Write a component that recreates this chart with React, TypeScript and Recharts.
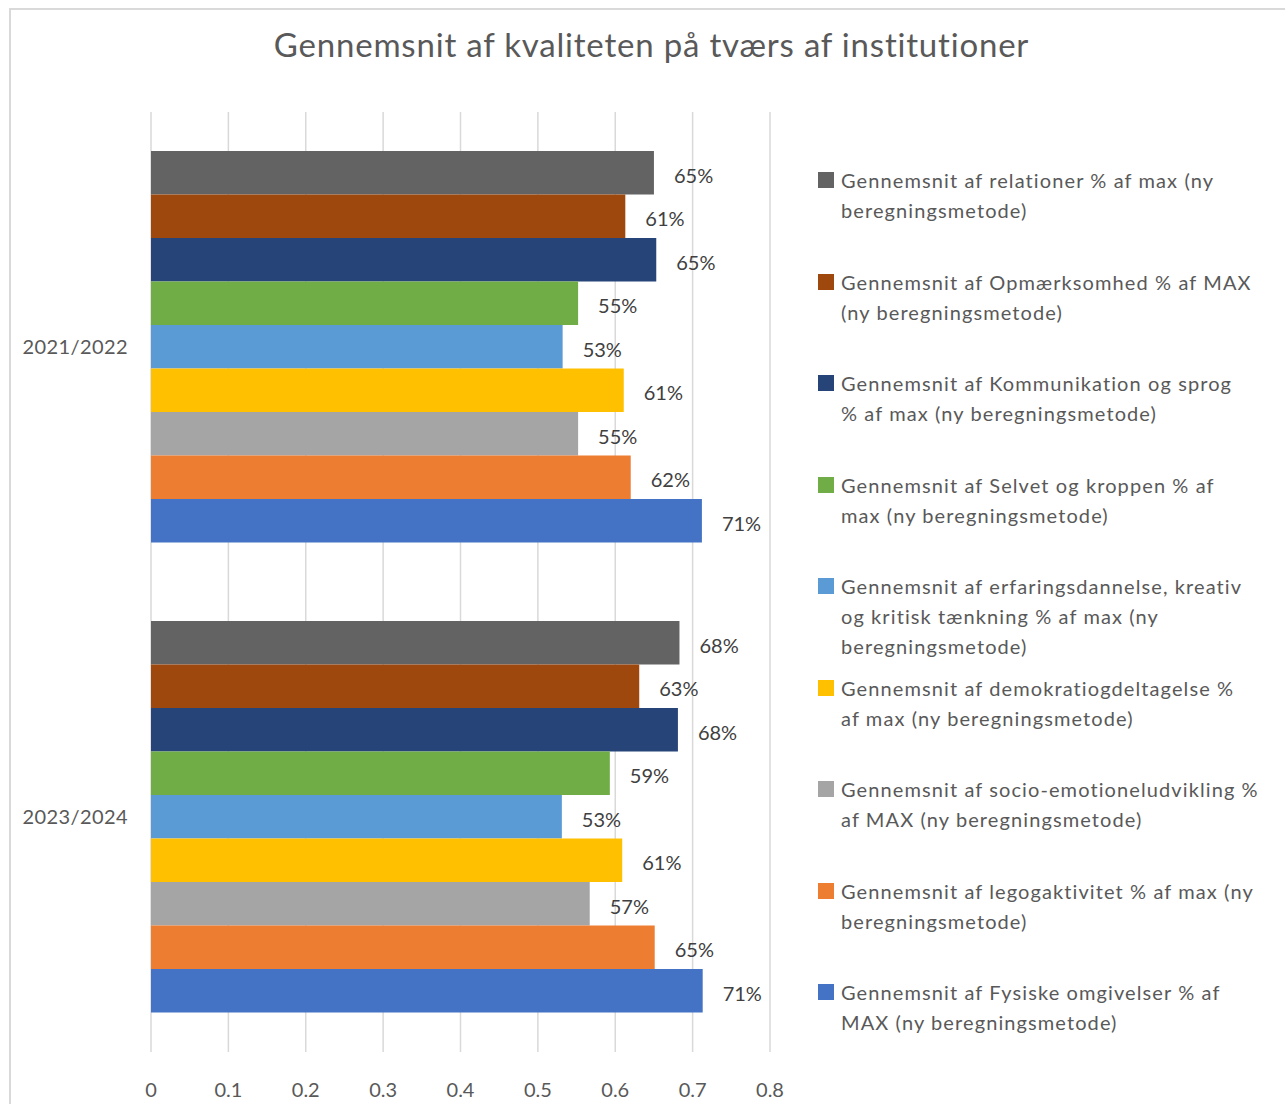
import React from 'react';
import { BarChart, Bar, XAxis, YAxis, CartesianGrid, LabelList, Legend } from 'recharts';

const categories = ['2021/2022', '2023/2024'];

const seriesNames = [
  'Gennemsnit af relationer % af max (ny beregningsmetode)',
  'Gennemsnit af Opmærksomhed % af MAX (ny beregningsmetode)',
  'Gennemsnit af Kommunikation og sprog % af max (ny beregningsmetode)',
  'Gennemsnit af Selvet og kroppen % af max (ny beregningsmetode)',
  'Gennemsnit af erfaringsdannelse, kreativ og kritisk tænkning % af max (ny beregningsmetode)',
  'Gennemsnit af demokratiogdeltagelse % af max (ny beregningsmetode)',
  'Gennemsnit af socio-emotioneludvikling % af MAX (ny beregningsmetode)',
  'Gennemsnit af legogaktivitet % af max (ny beregningsmetode)',
  'Gennemsnit af Fysiske omgivelser % af MAX (ny beregningsmetode)',
];

const legendLines = [
  ['Gennemsnit af relationer % af max (ny', 'beregningsmetode)'],
  ['Gennemsnit af Opmærksomhed % af MAX', '(ny beregningsmetode)'],
  ['Gennemsnit af Kommunikation og sprog', '% af max (ny beregningsmetode)'],
  ['Gennemsnit af Selvet og kroppen % af', 'max (ny beregningsmetode)'],
  ['Gennemsnit af erfaringsdannelse, kreativ', 'og kritisk tænkning % af max (ny', 'beregningsmetode)'],
  ['Gennemsnit af demokratiogdeltagelse %', 'af max (ny beregningsmetode)'],
  ['Gennemsnit af socio-emotioneludvikling %', 'af MAX (ny beregningsmetode)'],
  ['Gennemsnit af legogaktivitet % af max (ny', 'beregningsmetode)'],
  ['Gennemsnit af Fysiske omgivelser % af', 'MAX (ny beregningsmetode)'],
];

const seriesColors = ['#636363', '#9E480E', '#264478', '#70AD47', '#5B9BD5', '#FFC000', '#A5A5A5', '#ED7D31', '#4472C4'];

const relationer = [0.65, 0.683];
const opmaerksomhed = [0.613, 0.631];
const kommunikation = [0.653, 0.681];
const selvet = [0.552, 0.593];
const erfaringsdannelse = [0.532, 0.531];
const demokrati = [0.611, 0.609];
const socio = [0.552, 0.567];
const lego = [0.62, 0.651];
const fysiske = [0.712, 0.713];

const seriesValues = [relationer, opmaerksomhed, kommunikation, selvet, erfaringsdannelse, demokrati, socio, lego, fysiske];

const xTicks = [0, 0.1, 0.2, 0.3, 0.4, 0.5, 0.6, 0.7, 0.8];
const xTickLabels = ['0', '0.1', '0.2', '0.3', '0.4', '0.5', '0.6', '0.7', '0.8'];

const data = categories.map((cat, i) => {
  const row: Record<string, any> = { cat };
  seriesValues.forEach((vals, s) => {
    row['s' + s] = vals[i];
  });
  return row;
});

const FONT = 'Lato, "Open Sans", sans-serif';

const renderLegend = (props: any) => {
  const payload = props.payload || [];
  return (
    <div style={{ fontFamily: FONT }}>
      {seriesNames.map((name, i) => {
        const entry = payload.find((p: any) => p.value === name);
        const color = entry ? entry.color : seriesColors[i];
        return (
          <div key={i} style={{ position: 'relative', height: 101.5 }}>
            <div
              style={{
                position: 'absolute',
                left: 0,
                top: 7,
                width: 16,
                height: 16,
                background: color,
              }}
            />
            <div style={{ position: 'absolute', left: 23, top: 0, whiteSpace: 'nowrap' }}>
              {legendLines[i].map((line, k) => (
                <div
                  key={k}
                  style={{ fontSize: 20, lineHeight: '30px', color: '#595959', letterSpacing: '1.1px' }}
                >
                  {line}
                </div>
              ))}
            </div>
          </div>
        );
      })}
    </div>
  );
};

export default function App() {
  return (
    <div
      style={{
        position: 'absolute',
        left: 0,
        top: 0,
        width: 1285,
        height: 1104,
        overflow: 'hidden',
        background: '#ffffff',
        fontFamily: FONT,
      }}
    >
      <div
        style={{
          position: 'absolute',
          left: 9,
          top: 8,
          width: 1300,
          height: 1120,
          border: '2px solid #D9D9D9',
          boxSizing: 'border-box',
        }}
      />
      <div
        style={{
          position: 'absolute',
          left: 0,
          top: 28,
          width: 1303,
          textAlign: 'center',
          fontSize: 33,
          lineHeight: 1,
          letterSpacing: '0.8px',
          color: '#595959',
          whiteSpace: 'nowrap',
        }}
      >
        Gennemsnit af kvaliteten på tværs af institutioner
      </div>
      <div style={{ position: 'absolute', left: 0, top: 0 }}>
        <BarChart
          width={1285}
          height={1104}
          data={data}
          layout="vertical"
          margin={{ top: 112, right: 515, bottom: 0, left: 0 }}
          barSize={43.5}
          barGap={0}
        >
          <CartesianGrid horizontal={false} vertical stroke="#D9D9D9" strokeWidth={1.5} />
          <XAxis
            type="number"
            domain={[0, 0.8]}
            ticks={xTicks}
            tickFormatter={(v: number) => xTickLabels[xTicks.indexOf(v)] ?? String(v)}
            axisLine={false}
            tickLine={false}
            tickSize={0}
            tickMargin={31}
            height={52}
            tick={{ fill: '#595959', fontSize: 20, fontFamily: FONT }}
            interval={0}
          />
          <YAxis
            type="category"
            dataKey="cat"
            width={151}
            axisLine={false}
            tickLine={false}
            tickSize={0}
            tickMargin={23}
            tick={{ fill: '#595959', fontSize: 20, fontFamily: FONT, letterSpacing: '0.4px' }}
          />
          <Legend
            layout="horizontal"
            verticalAlign="middle"
            align="center"
            content={renderLegend}
            wrapperStyle={{ position: 'absolute', left: 818, top: 165, width: 465 }}
          />
          {seriesNames.map((name, s) => (
            <Bar
              key={name}
              dataKey={'s' + s}
              name={name}
              fill={seriesColors[s]}
              isAnimationActive={false}
            >
              <LabelList
                dataKey={'s' + s}
                position="right"
                offset={20}
                dy={3}
                fill="#404040"
                fontSize={20}
                fontFamily={FONT}
                formatter={(v: any) => Math.round(Number(v) * 100) + '%'}
              />
            </Bar>
          ))}
        </BarChart>
      </div>
    </div>
  );
}
